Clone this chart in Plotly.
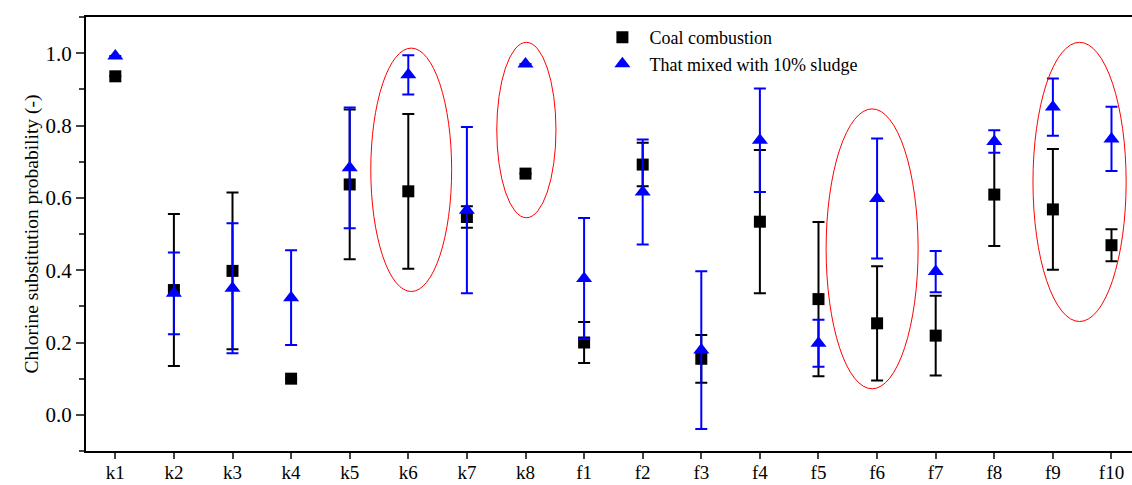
import plotly.graph_objects as go

categories = ["k1", "k2", "k3", "k4", "k5", "k6", "k7", "k8",
              "f1", "f2", "f3", "f4", "f5", "f6", "f7", "f8", "f9", "f10"]

coal_mean = [0.936, 0.345, 0.398, 0.100, 0.637, 0.618, 0.547, 0.667,
             0.200, 0.692, 0.155, 0.534, 0.320, 0.253, 0.219, 0.609, 0.568, 0.469]
coal_err = [None, 0.210, 0.217, None, 0.207, 0.214, 0.030, None,
            0.057, 0.060, 0.066, 0.198, 0.213, 0.158, 0.110, 0.142, 0.167, 0.044]

sludge_mean = [0.992, 0.336, 0.350, 0.324, 0.683, 0.940, 0.566, 0.970,
               0.377, 0.616, 0.179, 0.759, 0.198, 0.598, 0.396, 0.756, 0.851, 0.763]
sludge_err = [None, 0.113, 0.180, 0.131, 0.167, 0.054, 0.230, None,
              0.167, 0.145, 0.218, 0.143, 0.065, 0.166, 0.057, 0.031, 0.079, 0.089]

series_names = ["Coal combustion", "That mixed with 10% sludge"]

# highlighted groups (category-index span, value span)
highlight_x = [(5.36, 6.74), (7.51, 8.52), (13.13, 14.70), (16.66, 18.25)]
highlight_y = [(0.341, 1.014), (0.545, 1.030), (0.072, 0.846), (0.258, 1.030)]

xpos = list(range(1, len(categories) + 1))
FONT = "Liberation Serif, Times New Roman, serif"

fig = go.Figure()
fig.add_trace(go.Scatter(
    x=xpos, y=coal_mean, mode="markers", name=series_names[0],
    legendgroup="a",
    marker=dict(symbol="square", size=12, color="black"),
    error_y=dict(type="data", array=coal_err, visible=True,
                 color="black", thickness=2, width=6),
))
fig.add_trace(go.Scatter(
    x=xpos, y=sludge_mean, mode="markers", name=series_names[1],
    legendgroup="b",
    marker=dict(symbol="triangle-up", size=14, color="#0000FF"),
    error_y=dict(type="data", array=sludge_err, visible=True,
                 color="#0000FF", thickness=2, width=6),
))

for (x0, x1), (y0, y1) in zip(highlight_x, highlight_y):
    fig.add_shape(type="circle", xref="x", yref="y",
                  x0=x0, x1=x1, y0=y0, y1=y1,
                  line=dict(color="red", width=1), layer="above")

fig.update_layout(
    width=1132, height=485,
    margin=dict(l=86, r=0, t=17, b=34),
    paper_bgcolor="white", plot_bgcolor="white",
    font=dict(family=FONT, color="black"),
    showlegend=True,
    legend=dict(x=0.487, y=0.995, xanchor="left", yanchor="top",
                bgcolor="rgba(0,0,0,0)", borderwidth=0, itemwidth=44,
                font=dict(size=18, family=FONT), tracegroupgap=0),
    xaxis=dict(range=[0.5, 18.35], tickmode="array", tickvals=xpos,
               ticktext=categories, ticks="outside", ticklen=6, tickwidth=2,
               ticklabelstandoff=-3,
               showline=True, linewidth=2, linecolor="black", mirror=True,
               showgrid=False, zeroline=False, automargin=False,
               tickfont=dict(size=19, family=FONT)),
    yaxis=dict(range=[-0.1, 1.1], tick0=0, dtick=0.2, tickformat=".1f",
               ticks="outside", ticklen=8, tickwidth=2,
               minor=dict(dtick=0.1, tick0=0, ticks="outside", ticklen=5, tickwidth=2),
               showline=True, linewidth=2, linecolor="black",
               showgrid=False, zeroline=False, automargin=False,
               tickfont=dict(size=21, family=FONT),
               title=dict(text="Chlorine substitution probability (-)",
                          font=dict(size=19.5, family=FONT), standoff=2)),
)

fig.write_html("out.html",
               config={"displayModeBar": False},
               post_script="document.body.style.margin='0';document.body.style.overflow='hidden';")
